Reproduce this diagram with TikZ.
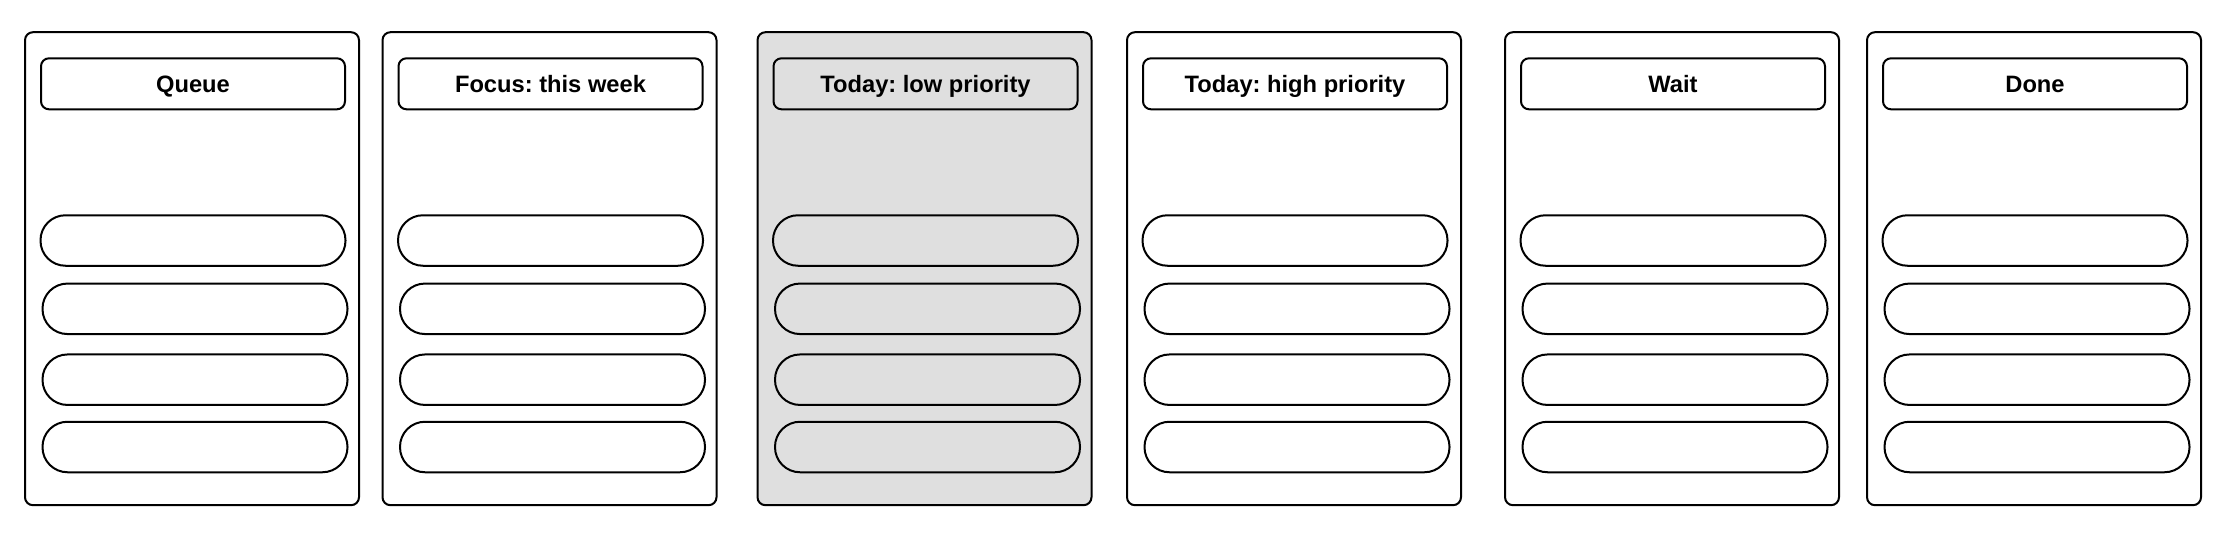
\documentclass[tikz,border=0pt]{standalone}
\usepackage{fontspec}
\setmainfont{Liberation Sans}
\frenchspacing
\definecolor{colgray}{HTML}{DFDFDF}
\tikzset{
  column/.style={draw=black, line width=2pt, rounded corners=8pt, minimum width=334pt, minimum height=473pt, inner sep=0pt},
  header/.style={draw=black, line width=2pt, rounded corners=8pt, minimum width=304pt, minimum height=51pt, inner sep=0pt, text height=17pt, text depth=0pt, font=\fontsize{23.7}{28}\selectfont\bfseries},
  card/.style={draw=black, line width=2pt, rounded corners=25pt, minimum width=305pt, minimum height=50.5pt, inner sep=0pt},
}
\begin{document}
\begin{tikzpicture}[x=1pt,y=-1pt]
\useasboundingbox[fill=white] (0,0) rectangle (2234,538);
\foreach \i/\x/\t/\f in {1/25/Queue/white, 2/382.5/{Focus: this week}/white, 3/757.5/{Today: low priority}/colgray, 4/1127/{Today: high priority}/white, 5/1505/Wait/white, 6/1867/Done/white}{
  \node[column, fill=\f] (col\i) at (\x+167, 268.7) {};
  \node[header] (head\i) at (\x+16+152, 83.8) {\t};
  \node[card] (card\i a) at (\x+15.5+152.5, 240.5) {};
  \node[card] (card\i b) at (\x+17.5+152.5, 308.8) {};
  \node[card] (card\i c) at (\x+17.5+152.5, 379.7) {};
  \node[card] (card\i d) at (\x+17.5+152.5, 447) {};
}
\end{tikzpicture}
\end{document}
